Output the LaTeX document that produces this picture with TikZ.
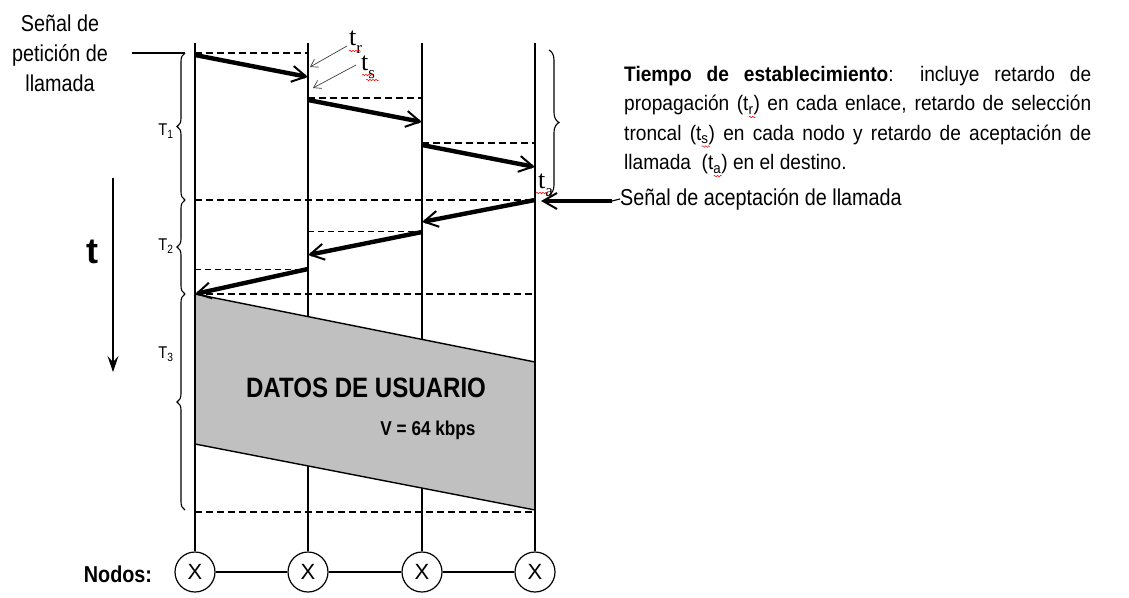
\documentclass[tikz,border=0pt]{standalone}
\usepackage{fontspec}
\setmainfont{Liberation Sans}
\newfontfamily\narrow[FakeStretch=0.86]{Liberation Sans}
\newfontfamily\narrowp[FakeStretch=0.91]{Liberation Sans}
\newfontfamily\serifa{Liberation Serif}
\usetikzlibrary{arrows.meta,decorations.pathreplacing,decorations.pathmorphing}
\definecolor{datagray}{HTML}{C0C0C0}
\tikzset{
 vline/.style={line width=1.6pt},
 dthick/.style={line width=1.6pt, dash pattern=on 7pt off 4pt},
 dthin/.style={line width=0.8pt, dash pattern=on 6pt off 4pt},
 msg/.style={line width=4.4pt, -{Straight Barb[length=14pt,width=16pt,line width=2pt]}},
 thinarr/.style={line width=0.7pt, draw=black!75, -{Straight Barb[length=7pt,width=9pt,line width=0.7pt]}},
 brc/.style={line width=1.1pt, decorate, decoration={brace, amplitude=8pt}},
 nodo/.style={circle, draw, line width=1.2pt, minimum size=40pt, inner sep=0pt, font=\fontsize{22}{22}\selectfont},
 squig/.style={red, line width=0.5pt, decorate, decoration={snake, amplitude=0.8pt, segment length=3pt}},
 lbl/.style={inner sep=0pt},
 tsub/.style={lbl, anchor=base west, font=\serifa\fontsize{26}{26}\selectfont},
 tlabel/.style={lbl, font=\narrow\fontsize{17}{17}\selectfont},
}
\newcommand\sqz[1]{\makebox[0pt][l]{\raisebox{-3pt}{\tikz[baseline=0pt]\draw[squig] (0pt,0pt)--(#1,0pt);}}}
\newcommand\lowsub[2]{\raisebox{-#1}{\fontsize{17}{17}\selectfont #2}}
\begin{document}
\begin{tikzpicture}[x=1pt,y=-1pt]
\useasboundingbox (0,0) rectangle (1129,597);
% columns and nodes
\foreach \n/\x in {a/195,b/308,c/422,d/535}{
  \coordinate (top\n) at (\x,43);
  \node[nodo] (n\n) at (\x,572) {X};
}
\foreach \n in {a,b,c,d}{ \draw[vline] (top\n) -- (n\n); }
\draw[line width=1.2pt] (na) -- (nb) (nb) -- (nc) (nc) -- (nd);
% user data band
\coordinate (g1) at (195,294);
\coordinate (g2) at (535,362);
\coordinate (g3) at (535,510);
\coordinate (g4) at (195,444);
\fill[datagray] (g1) -- (g2) -- (g3) -- (g4) -- cycle;
\draw[line width=1.4pt] (g1) -- (g2) (g4) -- (g3);
\draw[vline] (topa) -- (na);
\draw[vline] (topd) -- (nd);
% dashed time marks
\draw[dthick] (195,53) -- (308,53);
\draw[dthick] (308,98) -- (422,98);
\draw[dthick] (422,143) -- (535,143);
\draw[dthick] (195,200) -- (535,200);
\draw[dthin] (308,231) -- (422,231);
\draw[dthin] (195,269) -- (308,269);
\draw[dthick] (195,294) -- (535,294);
\draw[dthick] (195,512) -- (535,512);
% call request messages
\coordinate (m1s) at (195,55); \coordinate (m1e) at (308,77);
\coordinate (m2s) at (308,100); \coordinate (m2e) at (422,122);
\coordinate (m3s) at (422,145); \coordinate (m3e) at (535,167);
\draw[msg] (m1s) -- (m1e);
\draw[msg] (m2s) -- (m2e);
\draw[msg] (m3s) -- (m3e);
% call accept messages
\coordinate (r1s) at (535,200); \coordinate (r1e) at (422,222);
\coordinate (r2s) at (422,232); \coordinate (r2e) at (308,255);
\coordinate (r3s) at (308,269); \coordinate (r3e) at (195,294);
\draw[msg] (r1s) -- (r1e);
\draw[msg] (r2s) -- (r2e);
\draw[msg] (r3s) -- (r3e);
% left texts
\node[align=center, font=\narrow\fontsize{23}{30}\selectfont] (pet) at (60,53) {Señal de\\petición de\\llamada};
\coordinate (p1) at (132,53); \coordinate (p2) at (185,53);
\draw[line width=1.2pt] (p1) -- (p2);
% braces
\draw[brc] (185,200) -- (185,53);
\draw[brc] (185,294) -- (185,200);
\draw[brc] (185,510) -- (185,294);
\draw[brc, decoration={brace, amplitude=10pt}] (549,50) -- (549,195);
\node[tlabel] (T1) at (166,131) {T\textsubscript{1}};
\node[tlabel] (T2) at (166,246) {T\textsubscript{2}};
\node[tlabel] (T3) at (166,354) {T\textsubscript{3}};
% time axis
\node[font=\bfseries\fontsize{36}{36}\selectfont] (tlab) at (92,252) {t};
\coordinate (ta1) at (113,178); \coordinate (ta2) at (113,372);
\draw[line width=1.5pt, -{Stealth[length=16pt,width=11pt,inset=6pt]}] (ta1) -- (ta2);
% tr, ts labels
\node[tsub] (tr) at (349,45) {t\lowsub{9pt}{r}};
\node[tsub] (ts) at (361,70) {t\lowsub{8pt}{s}};
\draw[squig] (349,51) -- (361,51);
\draw[squig] (362,75) -- (373,75);
\draw[squig] (366,80) -- (379,80);
\coordinate (a1s) at (347,46); \coordinate (a1e) at (310,67);
\coordinate (a2s) at (356,65); \coordinate (a2e) at (313,88);
\draw[thinarr] (a1s) -- (a1e);
\draw[thinarr] (a2s) -- (a2e);
% ta label
\node[tsub] (tal) at (538,188) {t\lowsub{8pt}{a}};
\draw[squig] (536,193) -- (548,193);
% call accept signal
\node[lbl, anchor=west, font=\narrow\fontsize{23}{23}\selectfont] (acc) at (620,199) {Señal de aceptación de llamada};
\coordinate (s1) at (612,201); \coordinate (s2) at (541,201);
\draw[line width=1.2pt] (acc.west) -- (s1);
\draw[msg] (s1) -- (s2);
% explanation
\node[lbl, anchor=north west, text width=467pt, align=justify, font=\narrowp\fontsize{21}{29.5}\selectfont] (expl) at (624,66)
 {\textbf{Tiempo de establecimiento}: incluye retardo de\linebreak
  propagación (t\textsubscript{\sqz{7pt}r}) en cada enlace, retardo de selección\linebreak
  troncal (t\textsubscript{\sqz{8pt}s}) en cada nodo y retardo de aceptación de\linebreak
  llamada\ \ (t\textsubscript{\sqz{8pt}a}) en el destino.};
% data labels
\node[font=\narrow\bfseries\fontsize{28}{28}\selectfont] (datos) at (366,388) {DATOS DE USUARIO};
\node[font=\narrow\bfseries\fontsize{20}{20}\selectfont] (vel) at (428,430) {V = 64 kbps};
\node[font=\narrow\bfseries\fontsize{23}{23}\selectfont] (nodos) at (118,574) {Nodos:};
\end{tikzpicture}
\end{document}
